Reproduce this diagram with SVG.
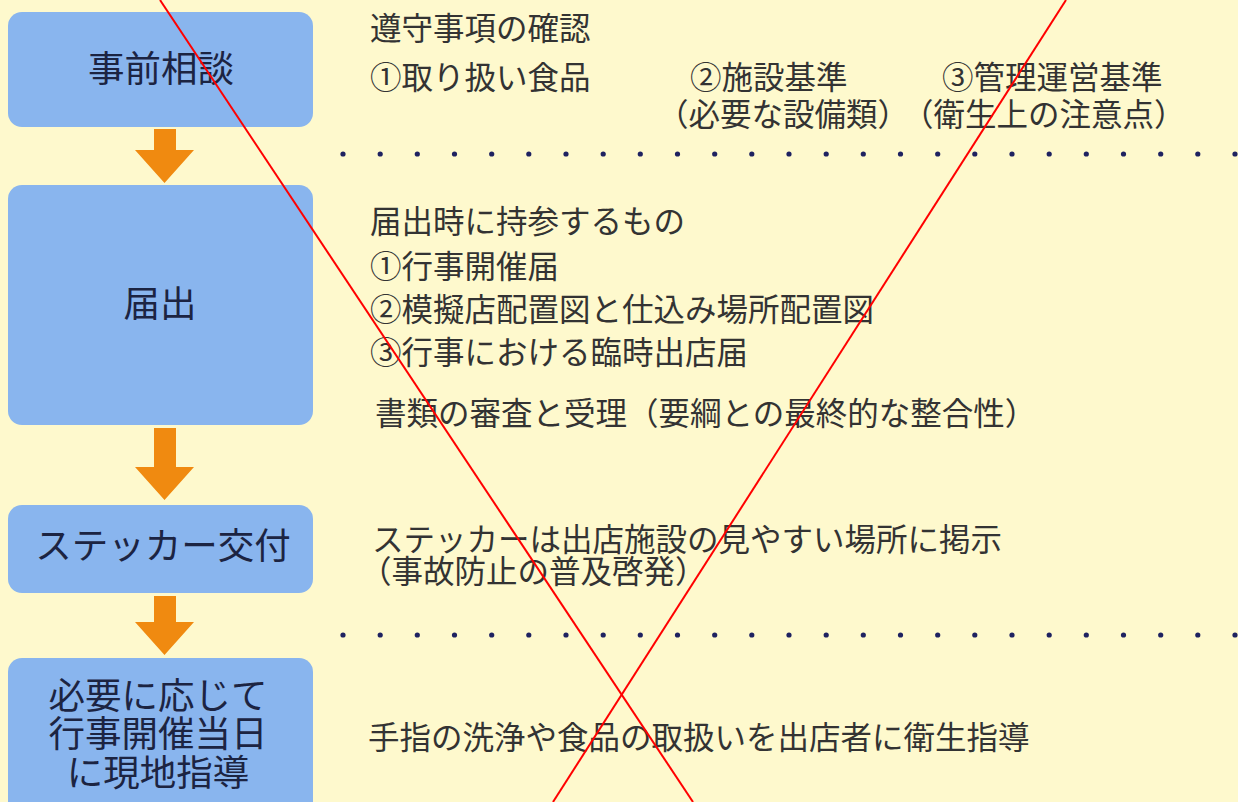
<svg xmlns="http://www.w3.org/2000/svg" width="1238" height="802" viewBox="0 0 1238 802">
<style>
.box{fill:#89B5EE;}
.bt{font-family:"Noto Sans CJK JP","Noto Sans",sans-serif;font-size:36.5px;fill:#1C2442;text-anchor:middle;}
.dt{font-family:"Noto Sans CJK JP","Noto Sans",sans-serif;font-size:31.5px;fill:#333333;}
.arrow{fill:#F08A10;}
.dot{fill:#1E2260;}
.x{stroke:#FF0000;stroke-width:2;}
</style>
<defs>
<circle id="d" r="2.6" class="dot"/>
</defs>
<rect width="1238" height="802" fill="#FEF9CD"/>

<g id="node-jizen">
<rect class="box" x="8" y="12" width="305" height="115" rx="14"/>
<text class="bt" x="161" y="82">事前相談</text>
</g>
<g id="node-todokede">
<rect class="box" x="8" y="185" width="305" height="240" rx="14"/>
<text class="bt" x="160" y="317">届出</text>
</g>
<g id="node-sticker">
<rect class="box" x="8" y="505" width="305" height="88" rx="14"/>
<text class="bt" x="163" y="559">ステッカー交付</text>
</g>
<g id="node-genchi">
<rect class="box" x="8" y="658" width="305" height="170" rx="14"/>
<text class="bt" x="158" y="709">必要に応じて</text>
<text class="bt" x="158" y="747">行事開催当日</text>
<text class="bt" x="158" y="786">に現地指導</text>
</g>

<g id="connectors">
<polygon class="arrow" points="154,129 176,129 176,150 194,150 164.5,183 135,150 154,150"/>
<polygon class="arrow" points="154,428 176,428 176,467 194,467 164.5,500 135,467 154,467"/>
<polygon class="arrow" points="154,596 176,596 176,622 194,622 164.5,655 135,622 154,622"/>
</g>

<g id="desc-jizen">
<text class="dt" x="370" y="40">遵守事項の確認</text>
<text class="dt" x="370" y="89">①取り扱い食品</text>
<text class="dt" x="690" y="89">②施設基準</text>
<text class="dt" x="942" y="89">③管理運営基準</text>
<text class="dt" x="657" y="126">（必要な設備類）</text>
<text class="dt" x="902" y="126">（衛生上の注意点）</text>
</g>
<g id="desc-todokede">
<text class="dt" x="370" y="233">届出時に持参するもの</text>
<text class="dt" x="370" y="278">①行事開催届</text>
<text class="dt" x="370" y="321">②模擬店配置図と仕込み場所配置図</text>
<text class="dt" x="370" y="364">③行事における臨時出店届</text>
<text class="dt" x="375" y="425">書類の審査と受理（要綱との最終的な整合性）</text>
</g>
<g id="desc-sticker">
<text class="dt" x="372" y="551">ステッカーは出店施設の見やすい場所に掲示</text>
<text class="dt" x="360" y="583">（事故防止の普及啓発）</text>
</g>
<g id="desc-genchi">
<text class="dt" x="368" y="749">手指の洗浄や食品の取扱いを出店者に衛生指導</text>
</g>

<g id="dots1">
<use href="#d" x="343" y="154"/><use href="#d" x="380.2" y="154"/><use href="#d" x="417.3" y="154"/><use href="#d" x="454.5" y="154"/><use href="#d" x="491.7" y="154"/><use href="#d" x="528.8" y="154"/><use href="#d" x="566" y="154"/><use href="#d" x="603.2" y="154"/><use href="#d" x="640.3" y="154"/><use href="#d" x="677.5" y="154"/><use href="#d" x="714.7" y="154"/><use href="#d" x="751.8" y="154"/><use href="#d" x="789" y="154"/><use href="#d" x="826.2" y="154"/><use href="#d" x="863.3" y="154"/><use href="#d" x="900.5" y="154"/><use href="#d" x="937.7" y="154"/><use href="#d" x="974.8" y="154"/><use href="#d" x="1012" y="154"/><use href="#d" x="1049.2" y="154"/><use href="#d" x="1086.3" y="154"/><use href="#d" x="1123.5" y="154"/><use href="#d" x="1160.7" y="154"/><use href="#d" x="1197.8" y="154"/><use href="#d" x="1235" y="154"/>
</g>
<g id="dots2">
<use href="#d" x="343" y="635"/><use href="#d" x="380.2" y="635"/><use href="#d" x="417.3" y="635"/><use href="#d" x="454.5" y="635"/><use href="#d" x="491.7" y="635"/><use href="#d" x="528.8" y="635"/><use href="#d" x="566" y="635"/><use href="#d" x="603.2" y="635"/><use href="#d" x="640.3" y="635"/><use href="#d" x="677.5" y="635"/><use href="#d" x="714.7" y="635"/><use href="#d" x="751.8" y="635"/><use href="#d" x="789" y="635"/><use href="#d" x="826.2" y="635"/><use href="#d" x="863.3" y="635"/><use href="#d" x="900.5" y="635"/><use href="#d" x="937.7" y="635"/><use href="#d" x="974.8" y="635"/><use href="#d" x="1012" y="635"/><use href="#d" x="1049.2" y="635"/><use href="#d" x="1086.3" y="635"/><use href="#d" x="1123.5" y="635"/><use href="#d" x="1160.7" y="635"/><use href="#d" x="1197.8" y="635"/><use href="#d" x="1235" y="635"/>
</g>

<g id="cross">
<line class="x" x1="160" y1="0" x2="693" y2="802"/>
<line class="x" x1="1066" y1="0" x2="553" y2="802"/>
</g>
</svg>
